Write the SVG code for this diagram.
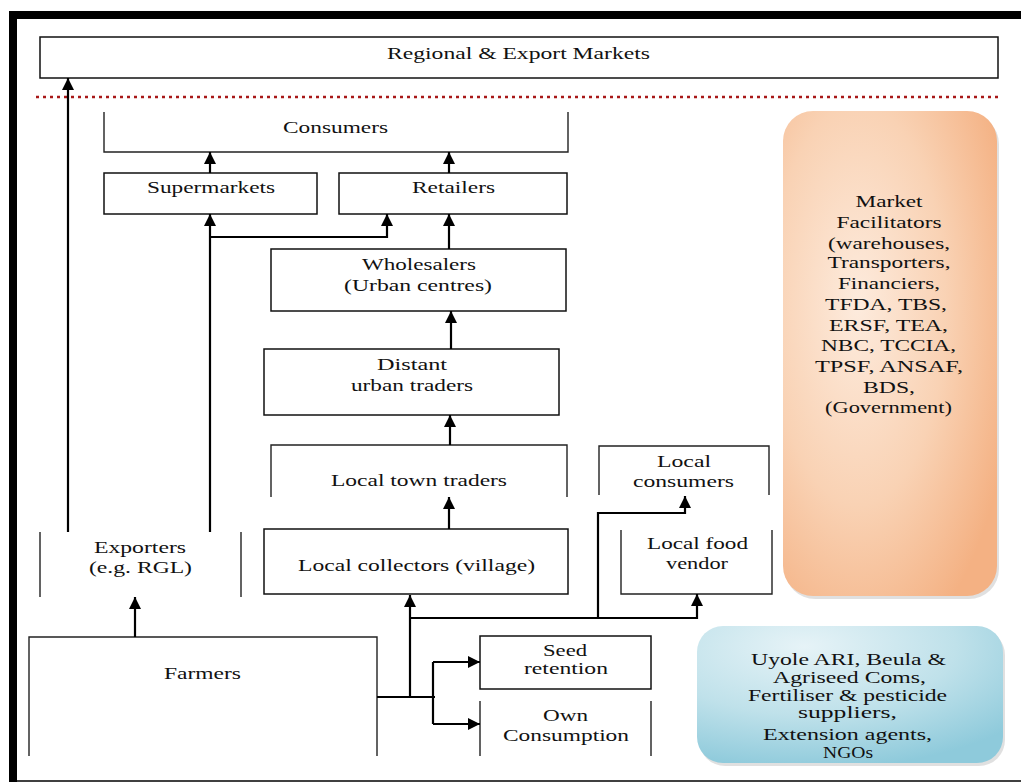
<svg xmlns="http://www.w3.org/2000/svg" width="1021" height="783" viewBox="0 0 1021 783">
<style>
text{font-family:"Liberation Serif","Times New Roman",serif;font-size:16px;fill:#111;text-anchor:middle}
.box{fill:#fff;stroke:#111;stroke-width:1.5}
.edge{fill:none;stroke:#222;stroke-width:1.4}
.con{fill:none;stroke:#000;stroke-width:2.2}
</style>
<defs>
<marker id="ah" viewBox="0 0 12 12" refX="12" refY="6" markerWidth="12" markerHeight="12" markerUnits="userSpaceOnUse" orient="auto"><path d="M0,0 L12,6 L0,12 z" fill="#000"/></marker>
<radialGradient id="orange" cx="0.35" cy="0.4" r="0.75">
<stop offset="0" stop-color="#fdebdd"/><stop offset="0.55" stop-color="#f9d2b4"/><stop offset="1" stop-color="#f4b183"/>
</radialGradient>
<radialGradient id="blue" cx="0.35" cy="0.15" r="0.9">
<stop offset="0" stop-color="#e6f3f7"/><stop offset="0.55" stop-color="#bfe1ea"/><stop offset="1" stop-color="#8ecadb"/>
</radialGradient>
</defs>

<g id="frame">
<rect x="9" y="11" width="1012" height="8" fill="#000"/>
<rect x="9" y="11" width="8" height="771" fill="#000"/>
<line x1="9" y1="781" x2="1021" y2="781" stroke="#000" stroke-width="1.5"/>
<line x1="36" y1="97" x2="1000" y2="97" stroke="#a81818" stroke-width="2.5" stroke-dasharray="3 4"/>
</g>

<g id="regional">
<rect class="box" x="40" y="37" width="958" height="41"/>
<text x="518.5" y="59" textLength="263" lengthAdjust="spacingAndGlyphs">Regional &amp; Export Markets</text>
</g>

<g id="consumers">
<path class="edge" d="M104,112 V152 H568 V112"/>
<text x="335.5" y="133" textLength="105" lengthAdjust="spacingAndGlyphs">Consumers</text>
</g>

<g id="supermarkets">
<rect class="box" x="104" y="173" width="213" height="41"/>
<text x="211" y="193" textLength="128" lengthAdjust="spacingAndGlyphs">Supermarkets</text>
</g>

<g id="retailers">
<rect class="box" x="339" y="173" width="228" height="41"/>
<text x="453.5" y="193" textLength="83" lengthAdjust="spacingAndGlyphs">Retailers</text>
</g>

<g id="wholesalers">
<rect class="box" x="271" y="249" width="295" height="62"/>
<text x="419" y="270" textLength="114" lengthAdjust="spacingAndGlyphs">Wholesalers</text>
<text x="418" y="291" textLength="148" lengthAdjust="spacingAndGlyphs">(Urban centres)</text>
</g>

<g id="distant">
<rect class="box" x="264" y="349" width="295" height="66"/>
<text x="412" y="370" textLength="70" lengthAdjust="spacingAndGlyphs">Distant</text>
<text x="412" y="391" textLength="122" lengthAdjust="spacingAndGlyphs">urban traders</text>
</g>

<g id="localtown">
<path class="edge" d="M271,497 V445 H567 V497"/>
<text x="419" y="486" textLength="176" lengthAdjust="spacingAndGlyphs">Local town traders</text>
</g>

<g id="localconsumers">
<path class="edge" d="M599,495 V446 H769 V495"/>
<text x="684" y="467" textLength="54" lengthAdjust="spacingAndGlyphs">Local</text>
<text x="683.5" y="487" textLength="101" lengthAdjust="spacingAndGlyphs">consumers</text>
</g>

<g id="exporters">
<path class="edge" d="M40,532 V597 M241,532 V597"/>
<text x="140" y="553" textLength="92" lengthAdjust="spacingAndGlyphs">Exporters</text>
<text x="140.5" y="573" textLength="103" lengthAdjust="spacingAndGlyphs">(e.g. RGL)</text>
</g>

<g id="collectors">
<rect class="box" x="264" y="529" width="304" height="65"/>
<text x="416.5" y="571" textLength="237" lengthAdjust="spacingAndGlyphs">Local collectors (village)</text>
</g>

<g id="foodvendor">
<path class="edge" d="M621,530 V594 H772 V530"/>
<text x="697.5" y="549" textLength="101" lengthAdjust="spacingAndGlyphs">Local food</text>
<text x="697" y="569" textLength="62" lengthAdjust="spacingAndGlyphs">vendor</text>
</g>

<g id="farmers">
<path class="edge" d="M29,756 V637 H377 V756"/>
<text x="202.5" y="679" textLength="77" lengthAdjust="spacingAndGlyphs">Farmers</text>
</g>

<g id="seed">
<rect class="box" x="480" y="636" width="171" height="53"/>
<text x="565" y="656" textLength="44" lengthAdjust="spacingAndGlyphs">Seed</text>
<text x="566" y="674" textLength="84" lengthAdjust="spacingAndGlyphs">retention</text>
</g>

<g id="own">
<path class="edge" d="M480,701 V756 M651,701 V756"/>
<text x="565.5" y="721" textLength="45" lengthAdjust="spacingAndGlyphs">Own</text>
<text x="566" y="741" textLength="126" lengthAdjust="spacingAndGlyphs">Consumption</text>
</g>

<g id="facilitators">
<rect x="785" y="114" width="214" height="485" rx="30" fill="#000" opacity="0.12"/>
<rect x="783" y="111" width="214" height="485" rx="30" fill="url(#orange)"/>
<text x="889" y="207" textLength="67" lengthAdjust="spacingAndGlyphs">Market</text>
<text x="889" y="228" textLength="105" lengthAdjust="spacingAndGlyphs">Facilitators</text>
<text x="889" y="249" textLength="122" lengthAdjust="spacingAndGlyphs">(warehouses,</text>
<text x="889" y="268" textLength="123" lengthAdjust="spacingAndGlyphs">Transporters,</text>
<text x="889" y="289" textLength="102" lengthAdjust="spacingAndGlyphs">Financiers,</text>
<text x="886" y="310" textLength="122" lengthAdjust="spacingAndGlyphs">TFDA, TBS,</text>
<text x="888.5" y="331" textLength="119" lengthAdjust="spacingAndGlyphs">ERSF, TEA,</text>
<text x="888.5" y="351" textLength="135" lengthAdjust="spacingAndGlyphs">NBC, TCCIA,</text>
<text x="889" y="372" textLength="148" lengthAdjust="spacingAndGlyphs">TPSF, ANSAF,</text>
<text x="889" y="393" textLength="52" lengthAdjust="spacingAndGlyphs">BDS,</text>
<text x="888.5" y="413" textLength="127" lengthAdjust="spacingAndGlyphs">(Government)</text>
</g>

<g id="suppliers">
<rect x="699" y="629" width="306" height="137" rx="26" fill="#000" opacity="0.12"/>
<rect x="697" y="626" width="306" height="137" rx="26" fill="url(#blue)"/>
<text x="848.5" y="665" textLength="195" lengthAdjust="spacingAndGlyphs">Uyole ARI, Beula &amp;</text>
<text x="849.5" y="683" textLength="153" lengthAdjust="spacingAndGlyphs">Agriseed Coms,</text>
<text x="847.5" y="701" textLength="199" lengthAdjust="spacingAndGlyphs">Fertiliser &amp; pesticide</text>
<text x="847.5" y="718" textLength="99" lengthAdjust="spacingAndGlyphs">suppliers,</text>
<text x="847.5" y="740" textLength="169" lengthAdjust="spacingAndGlyphs">Extension agents,</text>
<text x="848" y="758" textLength="50" lengthAdjust="spacingAndGlyphs">NGOs</text>
</g>

<g id="connectors">
<path class="con" d="M68,532 V78" marker-end="url(#ah)"/>
<path class="con" d="M210,532 V214" marker-end="url(#ah)"/>
<path class="con" d="M210,237 H387 V214" marker-end="url(#ah)"/>
<path class="con" d="M210,173 V152" marker-end="url(#ah)"/>
<path class="con" d="M449,173 V152" marker-end="url(#ah)"/>
<path class="con" d="M449,249 V214" marker-end="url(#ah)"/>
<path class="con" d="M451,349 V311" marker-end="url(#ah)"/>
<path class="con" d="M450,445 V415" marker-end="url(#ah)"/>
<path class="con" d="M449,529 V497" marker-end="url(#ah)"/>
<path class="con" d="M135,637 V597" marker-end="url(#ah)"/>
<path class="con" d="M377,697 H435" stroke-width="1.6"/>
<path class="con" d="M410,697 V595" marker-end="url(#ah)"/>
<path class="con" d="M410,618 H697 V594" marker-end="url(#ah)"/>
<path class="con" d="M598,618 V513 H685 V496" marker-end="url(#ah)"/>
<path class="con" d="M433,662 V724" stroke-width="1.8"/>
<path class="con" d="M433,662 H480" stroke-width="1.8" marker-end="url(#ah)"/>
<path class="con" d="M433,724 H480" stroke-width="1.8" marker-end="url(#ah)"/>
</g>
</svg>
